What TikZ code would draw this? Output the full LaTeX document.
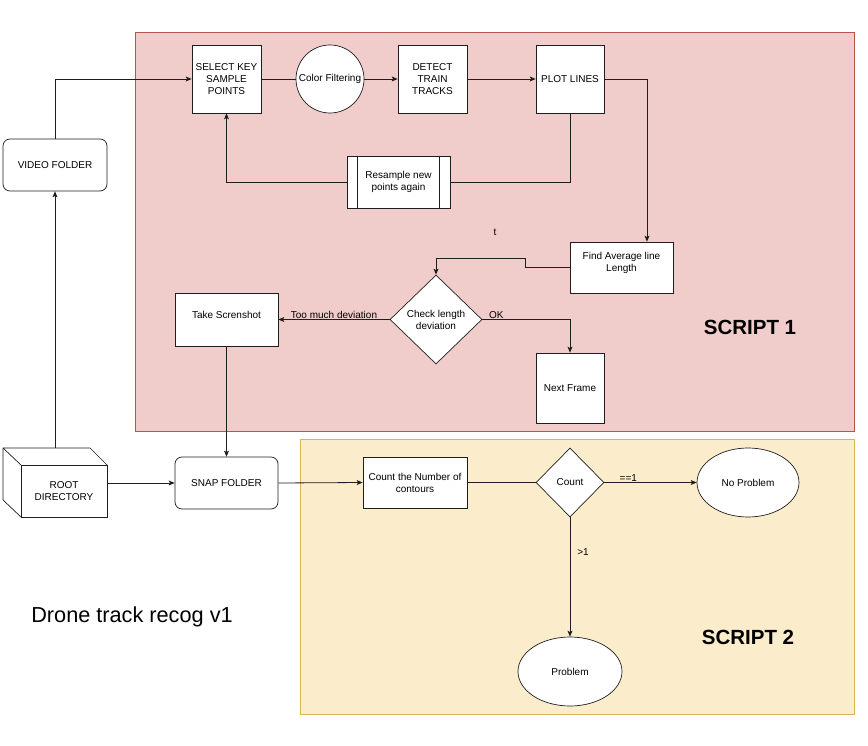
\documentclass[tikz,border=0pt]{standalone}
\usepackage{fontspec}
\setmainfont{Liberation Sans}
\usetikzlibrary{arrows.meta,shapes.geometric}
\definecolor{redfill}{RGB}{240,205,203}
\definecolor{redline}{RGB}{184,84,80}
\definecolor{yelfill}{RGB}{251,237,203}
\definecolor{yelline}{RGB}{214,182,86}
\definecolor{ln}{RGB}{30,30,30}
\begin{document}
\begin{tikzpicture}[x=1pt,y=-1pt,
  font=\fontsize{10}{12}\selectfont,
  shp/.style={draw=ln, fill=white, line width=0.7pt, inner sep=0pt, align=center},
  box/.style={shp, rectangle},
  rbox/.style={shp, rectangle, rounded corners=7pt},
  circ/.style={shp, circle},
  ell/.style={shp, ellipse},
  dia/.style={shp, diamond},
  con/.style={draw=ln, line width=0.8pt},
  arr/.style={con, -{Stealth[length=6pt,width=5pt,inset=1.5pt]}},
  lbl/.style={inner sep=1pt, font=\fontsize{10}{12}\selectfont},
  big/.style={font=\fontsize{20.5}{24}\selectfont\bfseries}
]
\useasboundingbox (0,0) rectangle (868,746);
% regions
\draw[redline, fill=redfill, line width=0.7pt] (135,32) rectangle (854,431);
\draw[yelline, fill=yelfill, line width=0.7pt] (300,439) rectangle (854,714);

% cube outline for root directory
\draw[shp] (3,448) -- (90,448) -- (107,465) -- (107,517) -- (21,517) -- (3,500) -- cycle;
\draw[draw=ln, line width=0.7pt] (3,448) -- (21,465);

% nodes
\node[box, minimum width=69pt, minimum height=68pt] (sel) at (226.5,79) {SELECT KEY\\SAMPLE\\POINTS};
\node[circ, minimum size=68pt] (col) at (330,79) {Color Filtering};
\node[box, minimum width=69pt, minimum height=68pt] (det) at (432.5,79) {DETECT\\TRAIN\\TRACKS};
\node[box, minimum width=68pt, minimum height=68pt] (plot) at (570,79) {PLOT LINES};
\node[box, minimum width=103pt, minimum height=52pt] (res) at (398.5,182) {Resample new\\points again};
\draw[draw=ln, line width=0.7pt] ([xshift=11pt]res.north west) -- ([xshift=11pt]res.south west);
\draw[draw=ln, line width=0.7pt] ([xshift=-11pt]res.north east) -- ([xshift=-11pt]res.south east);
\node[rbox, minimum width=104pt, minimum height=52pt] (vid) at (55,165) {VIDEO FOLDER};
\node[box, minimum width=103pt, minimum height=51pt, text depth=11pt] (favg) at (621.5,267.5) {Find Average line\\Length};
\node[dia, minimum width=92pt, minimum height=89pt] (chk) at (436,319.5) {Check length\\deviation};
\node[box, minimum width=103pt, minimum height=53pt, text depth=10pt] (shot) at (226.5,319.5) {Take Screnshot};
\node[box, minimum width=68pt, minimum height=70pt] (next) at (570,388) {Next Frame};
\node[box, minimum width=86pt, minimum height=52pt] (root) at (64,491) {ROOT\\DIRECTORY};
\node[rbox, minimum width=103pt, minimum height=52pt] (snap) at (226.5,483) {SNAP FOLDER};
\node[box, minimum width=104pt, minimum height=51pt] (cnt) at (415,482.5) {Count the Number of\\contours};
\node[dia, minimum width=68pt, minimum height=69pt] (cd) at (570,482.5) {Count};
\node[ell, minimum width=102pt, minimum height=69pt] (nop) at (748,482.5) {No Problem};
\node[ell, minimum width=104pt, minimum height=69pt] (prob) at (570,671.5) {Problem};

% free texts
\node[lbl] (t) at (495,232) {t};
\node[big] (s1) at (750,327) {SCRIPT 1};
\node[big] (s2) at (748,637) {SCRIPT 2};
\node[font=\fontsize{21.7}{26}\selectfont] (title) at (132,617) {Drone track recog v1};

% connectors
\coordinate (roottop) at (55,448);
\draw[arr] (vid.north) |- (sel.west);
\draw[arr] (roottop) -- (vid.south);
\draw[con] (sel.east) -- (col.west);
\draw[arr] (col.east) -- (det.west);
\draw[arr] (det.east) -- (plot.west);
\draw[con] (plot.south) |- (res.east);
\draw[arr] (res.west) -| (sel.south);
\draw[arr] (plot.east) -| ([xshift=25.5pt]favg.north);
\draw[arr] (favg.west) -- ++(-44,0) -- ++(0,-9) -| (chk.north);
\draw[arr] (chk.west) -- node[lbl, above] {Too much deviation} (shot.east);
\draw[arr] (chk.east) -| node[lbl, above, pos=0.08] {OK} (next.north);
\draw[arr] (shot.south) -- (snap.north);
\draw[arr] (root.east |- snap.west) -- (snap.west);
\draw[arr] (snap.east) -- (cnt.west);
\draw[con] (cnt.east) -- (cd.west);
\draw[arr] (cd.east) -- node[lbl, above, pos=0.26] {==1} (nop.west);
\draw[arr] (cd.south) -- node[lbl, right, pos=0.29, xshift=6pt] {>1} (prob.north);
\end{tikzpicture}
\end{document}
